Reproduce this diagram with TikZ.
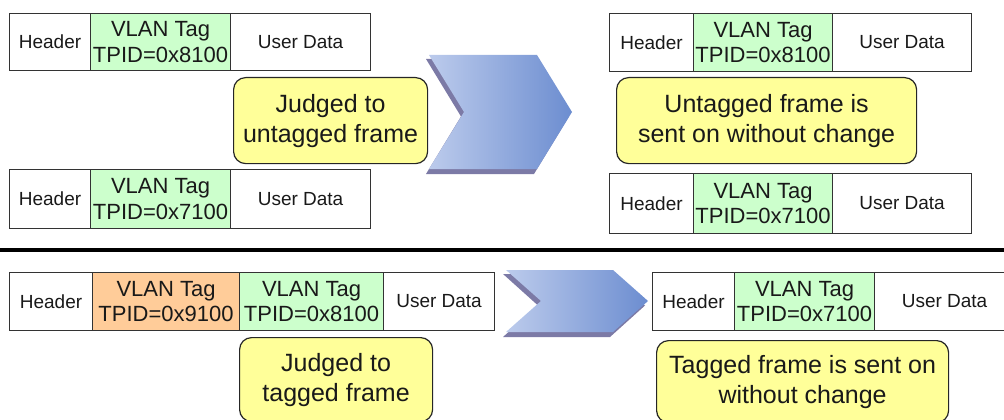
\documentclass[tikz,border=0pt]{standalone}
\usepackage{fontspec}
\setmainfont{Liberation Sans}
\usetikzlibrary{shadings}
\definecolor{tagGreen}{HTML}{CCFFCC}
\definecolor{tagOrange}{HTML}{FFCC99}
\definecolor{noteYellow}{HTML}{FFFF99}
\definecolor{frameLine}{HTML}{333333}
\definecolor{chevLeft}{HTML}{BCCBEC}
\definecolor{chevRight}{HTML}{6C8DD0}
\definecolor{chevShadow}{HTML}{7C7AA6}
\tikzset{
  cell/.style={draw=frameLine, line width=1.1pt, anchor=north west, inner sep=0pt,
    align=center, text=black!90, font=\fontsize{19}{22}\selectfont},
  tagcell/.style={cell, font=\fontsize{22}{25.5}\selectfont},
  green/.style={tagcell, fill=tagGreen},
  orange/.style={tagcell, fill=tagOrange},
  note/.style={draw=black!85, line width=1.2pt, rounded corners=12pt, fill=noteYellow,
    anchor=north west, inner sep=0pt, align=center, text=black!90,
    font=\fontsize{25}{30}\selectfont},
  chevron/.style={left color=chevLeft, right color=chevRight},
  chevronshadow/.style={fill=chevShadow},
}
% one forward chevron: top-left corner (#1,#2), body width #3, tip depth #4, height #5
\newcommand{\chevronpath}[5]{%
  (#1,#2) -- ++(#3,0) -- ++(#4,#5/2) -- ++(-#4,#5/2) -- ++(-#3,0) -- ++(#4,-#5/2) -- cycle}
\begin{document}
\begin{tikzpicture}[x=1pt, y=-1pt]
\useasboundingbox (0,0) rectangle (1004,420);

% ---------- upper half: untagged frames ----------
% left frames
\node[cell, minimum width=81pt, minimum height=57pt] (hA) at (9,13) {Header};
\node[green, minimum width=140pt, minimum height=57pt] (vA) at (90,13) {VLAN Tag\\TPID=0x8100};
\node[cell, minimum width=140pt, minimum height=57pt] (uA) at (230,13) {User Data};

\node[cell, minimum width=81pt, minimum height=59pt] (hB) at (9,169) {Header};
\node[green, minimum width=140pt, minimum height=59pt] (vB) at (90,169) {VLAN Tag\\TPID=0x7100};
\node[cell, minimum width=140pt, minimum height=59pt] (uB) at (230,169) {User Data};

\node[note, minimum width=194pt, minimum height=86pt] (jU) at (233,77) {Judged to\\untagged frame};

% chevron
\fill[chevronshadow] \chevronpath{426}{59}{108}{35}{115};
\shade[chevron] \chevronpath{429}{55}{108}{35}{114};

% right frames
\node[cell, minimum width=84pt, minimum height=58pt] (hC) at (609,13) {Header};
\node[green, minimum width=139pt, minimum height=58pt] (vC) at (693,13) {VLAN Tag\\TPID=0x8100};
\node[cell, minimum width=139pt, minimum height=58pt] (uC) at (832,13) {User Data};

\node[note, minimum width=300pt, minimum height=86pt] (sU) at (616,77) {Untagged frame is\\sent on without change};

\node[cell, minimum width=84pt, minimum height=60pt] (hD) at (609,173) {Header};
\node[green, minimum width=139pt, minimum height=60pt] (vD) at (693,173) {VLAN Tag\\TPID=0x7100};
\node[cell, minimum width=139pt, minimum height=60pt] (uD) at (832,173) {User Data};

% ---------- separator ----------
\coordinate (sepL) at (0,250);
\coordinate (sepR) at (1004,250);
\draw[line width=4pt] (sepL) -- (sepR);

% ---------- lower half: tagged frames ----------
\node[cell, minimum width=83pt, minimum height=58pt] (hE) at (9,272) {Header};
\node[orange, minimum width=147pt, minimum height=58pt] (oE) at (92,272) {VLAN Tag\\TPID=0x9100};
\node[green, minimum width=144pt, minimum height=58pt] (vE) at (239,272) {VLAN Tag\\TPID=0x8100};
\node[cell, minimum width=111pt, minimum height=58pt] (uE) at (383,272) {User Data};

\node[note, minimum width=193pt, minimum height=84pt] (jT) at (239,337) {Judged to\\tagged frame};

\fill[chevronshadow] \chevronpath{503}{274}{107}{35}{63};
\shade[chevron] \chevronpath{506}{270}{107}{35}{62};

\node[cell, minimum width=82pt, minimum height=58pt] (hF) at (652,272) {Header};
\node[green, minimum width=140pt, minimum height=58pt] (vF) at (734,272) {VLAN Tag\\TPID=0x7100};
\node[cell, minimum width=140pt, minimum height=58pt] (uF) at (874,272) {User Data};

\node[note, minimum width=292pt, minimum height=82pt] (sT) at (656,340) {Tagged frame is sent on\\without change};
\end{tikzpicture}
\end{document}
